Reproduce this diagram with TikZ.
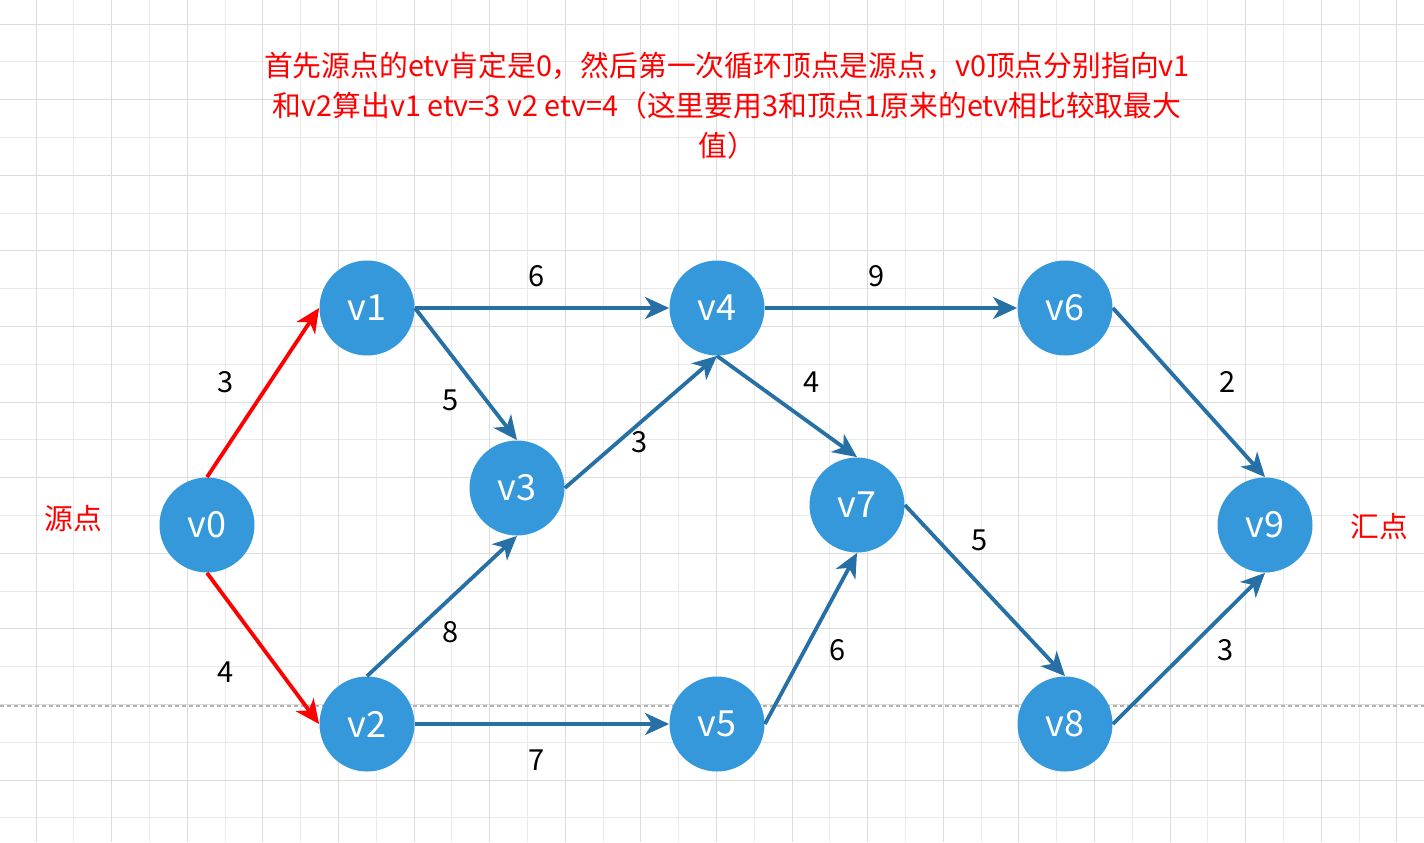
\documentclass[tikz,border=0pt]{standalone}
\usepackage{fontspec}
\setmainfont{Noto Sans CJK SC}
\usetikzlibrary{arrows.meta}
\definecolor{vtxblue}{RGB}{52,152,219}
\definecolor{arcblue}{RGB}{38,112,166}
\definecolor{gridminor}{RGB}{234,234,234}
\definecolor{gridmajor}{RGB}{220,220,220}

\begin{document}
\begin{tikzpicture}[x=0.5pt,y=-0.5pt,>={Stealth[length=12pt,width=11pt,inset=3.5pt]},
  vtx/.style={circle,fill=vtxblue,minimum size=47.5pt,inner sep=0pt,text=white,font=\fontsize{18}{20}\selectfont},
  arc/.style={->,line width=1.9pt,draw=arcblue},
  crit/.style={->,line width=1.9pt,draw=red},
  wt/.style={font=\fontsize{14.5}{16}\selectfont},
  note/.style={text=red,font=\fontsize{14.4}{20}\selectfont}]
  \useasboundingbox (0,0) rectangle (1424,842);
  \fill[white] (0,0) rectangle (1424,842);
  \foreach \k in {0,...,36} \draw[gridminor,line width=0.5pt] ({36+37.8*\k},0) -- ({36+37.8*\k},842);
  \foreach \k in {0,...,21} \draw[gridminor,line width=0.5pt] (0,{24+37.8*\k}) -- (1424,{24+37.8*\k});
  \foreach \k in {0,2,...,36} \draw[gridmajor,line width=0.5pt] ({36+37.8*\k},0) -- ({36+37.8*\k},842);
  \foreach \k in {0,2,...,20} \draw[gridmajor,line width=0.5pt] (0,{24+37.8*\k}) -- (1424,{24+37.8*\k});
  \draw[gray!60,line width=0.6pt,dash pattern=on 2pt off 1.5pt] (0,706) -- (1424,706);

  \node[note,align=center] (title) at (727,106) {首先源点的etv肯定是0，然后第一次循环顶点是源点，v0顶点分别指向v1\\和v2算出v1 etv=3 v2 etv=4（这里要用3和顶点1原来的etv相比较取最大\\值）};

  \node[vtx] (v0) at (207,525) {v0};
  \node[vtx] (v1) at (367,308) {v1};
  \node[vtx] (v2) at (367,724) {v2};
  \node[vtx] (v3) at (517,488) {v3};
  \node[vtx] (v4) at (717,308) {v4};
  \node[vtx] (v5) at (717,724) {v5};
  \node[vtx] (v6) at (1065,308) {v6};
  \node[vtx] (v7) at (857,505) {v7};
  \node[vtx] (v8) at (1065,724) {v8};
  \node[vtx] (v9) at (1265,525) {v9};

  \node[note] (src) at (73,519) {源点};
  \node[note] (snk) at (1379,527) {汇点};

  \draw[crit] (v0.north) -- (v1.west);
  \draw[crit] (v0.south) -- (v2.west);
  \draw[arc] (v1.east) -- (v4.west);
  \draw[arc] (v1.east) -- (v3.north);
  \draw[arc] (v2.north) -- (v3.south);
  \draw[arc] (v2.east) -- (v5.west);
  \draw[arc] (v3.east) -- (v4.south);
  \draw[arc] (v4.east) -- (v6.west);
  \draw[arc] (v4.south) -- (v7.north);
  \draw[arc] (v5.east) -- (v7.south);
  \draw[arc] (v6.east) -- (v9.north);
  \draw[arc] (v7.east) -- (v8.north);
  \draw[arc] (v8.east) -- (v9.south);

  \node[wt] (w01) at (226,382) {3};
  \node[wt] (w02) at (226,672) {4};
  \node[wt] (w14) at (537,276) {6};
  \node[wt] (w13) at (451,400) {5};
  \node[wt] (w34) at (640,442) {3};
  \node[wt] (w23) at (451,632) {8};
  \node[wt] (w25) at (537,760) {7};
  \node[wt] (w46) at (877,276) {9};
  \node[wt] (w47) at (812,382) {4};
  \node[wt] (w57) at (838,650) {6};
  \node[wt] (w78) at (980,540) {5};
  \node[wt] (w69) at (1228,382) {2};
  \node[wt] (w89) at (1226,650) {3};
\end{tikzpicture}
\end{document}
